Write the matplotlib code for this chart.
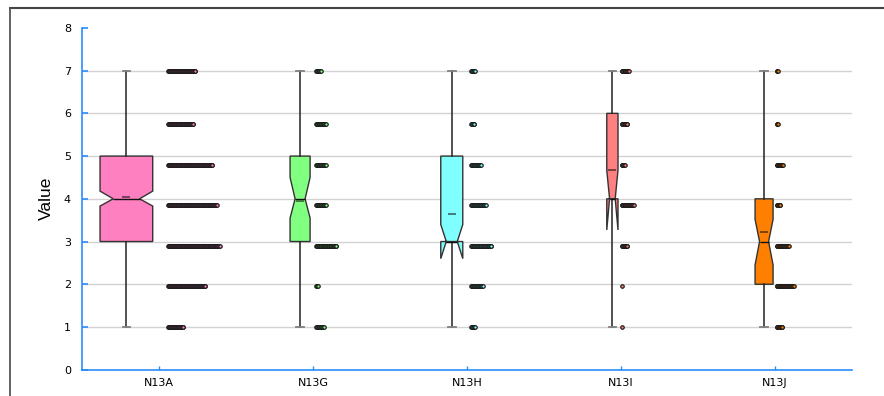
import numpy as np
import matplotlib
matplotlib.use('Agg')
import matplotlib.pyplot as plt
from matplotlib.lines import Line2D

# Groups and answer levels
labels = ['N13A', 'N13G', 'N13H', 'N13I', 'N13J']
levels = [1, 1.95, 2.9, 3.85, 4.8, 5.75, 7]

# Number of answers at each level, per group (low -> high)
counts_A = [23, 54, 74, 70, 64, 37, 40]
counts_G = [12, 4, 30, 15, 15, 15, 8]
counts_H = [7, 18, 30, 22, 15, 6, 7]
counts_I = [1, 1, 9, 18, 5, 9, 11]
counts_J = [9, 25, 18, 6, 10, 3, 3]

# Box statistics per group
q1 = [3, 3, 3, 4, 2]
q3 = [5, 5, 5, 6, 4]
medians = [4, 4, 3, 4, 3]
ci_lo = [3.83, 3.55, 2.6, 3.27, 2.45]
ci_hi = [4.18, 4.5, 3.4, 4.67, 3.52]
whis_lo = [1, 1, 1, 1, 1]
whis_hi = [7, 7, 7, 7, 7]
means = [4.04, 3.95, 3.64, 4.67, 3.22]

# Styling
colors = ['#ff80c0', '#80ff80', '#80ffff', '#ff8080', '#ff8000']
box_widths = [0.342, 0.13, 0.143, 0.073, 0.117]
box_shift = [0.212, 0.084, 0.099, 0.056, 0.071]     # box centre left of the tick
strip_shift = [0.057, 0.018, 0.025, 0.005, 0.011]   # first dot right of the tick
dot_step = 0.0046
blue = '#2a8cff'

counts = [counts_A, counts_G, counts_H, counts_I, counts_J]
ticks = np.arange(1, len(labels) + 1)

fig = plt.figure(figsize=(8.84, 3.96), dpi=100)
ax = fig.add_axes([0.0928, 0.0664, 0.871, 0.8631])

# Boxes
stats = []
for i in range(len(labels)):
    stats.append(dict(med=medians[i], q1=q1[i], q3=q3[i],
                      whislo=whis_lo[i], whishi=whis_hi[i],
                      cilo=ci_lo[i], cihi=ci_hi[i], mean=means[i],
                      fliers=[], label=labels[i]))

positions = ticks - np.array(box_shift)
bp = ax.bxp(stats, positions=positions, widths=box_widths,
            shownotches=True, showmeans=True, patch_artist=True,
            capwidths=0.05, manage_ticks=False,
            boxprops=dict(edgecolor='#333333', linewidth=1.0),
            whiskerprops=dict(color='#222222', linewidth=1.1),
            capprops=dict(color='#808080', linewidth=1.3),
            medianprops=dict(color='#111111', linewidth=1.0),
            meanprops=dict(marker='_', markersize=6, markeredgewidth=1.3))
for patch, c in zip(bp['boxes'], colors):
    patch.set_facecolor(c)
for m, c in zip(bp['means'], colors):
    rgb = np.array(matplotlib.colors.to_rgb(c)) * 0.45
    m.set_markeredgecolor(rgb)
    m.set_markerfacecolor(rgb)

# Stacked dots next to each box
for i, cnt in enumerate(counts):
    x0 = ticks[i] + strip_shift[i]
    for lev, n in zip(levels, cnt):
        xs = x0 + np.arange(n) * dot_step
        ax.plot(xs, np.full(n, lev), 'o', ms=2.5, mfc=colors[i],
                mec='#1a1a1a', mew=0.85, zorder=3)

# Axes, ticks and grid
ax.set_xlim(0.5, 5.5)
ax.set_ylim(0, 8)
ax.set_xticks(ticks)
ax.set_xticklabels(labels)
ax.set_yticks(range(0, 9))
for y in range(1, 8):
    ax.axhline(y, color='#d2d2d2', linewidth=1.0, zorder=0)

for side in ['top', 'right']:
    ax.spines[side].set_visible(False)
for side in ['left', 'bottom']:
    ax.spines[side].set_color(blue)
    ax.spines[side].set_linewidth(1.2)
ax.tick_params(axis='y', direction='in', length=4, width=1.2, color=blue,
               labelsize=8, pad=8)
ax.tick_params(axis='x', direction='in', length=3, width=1.0, color=blue,
               labelsize=8, pad=6)

ax.set_ylabel('Value', family=['Liberation Sans Narrow', 'Liberation Sans'],
              fontsize=12.5)
ax.yaxis.set_label_coords(-0.037, 0.5)

# Frame lines around the figure
fig.add_artist(Line2D([9.5 / 884, 1], [1 - 7.5 / 396] * 2,
                      transform=fig.transFigure, color='#444444', lw=1.5))
fig.add_artist(Line2D([10 / 884] * 2, [0, 1 - 7.5 / 396],
                      transform=fig.transFigure, color='#555555', lw=1.3))

fig.savefig('out.png', dpi=100)
